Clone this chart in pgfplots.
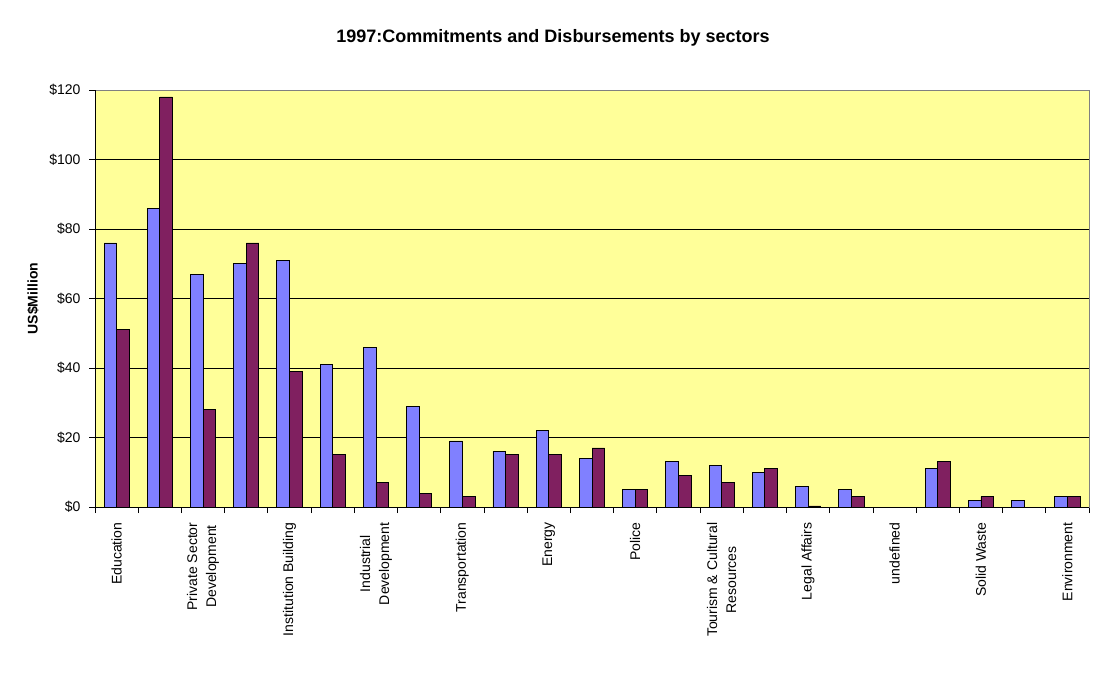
\documentclass[border=0pt]{standalone}
\usepackage{pgfplots}
\pgfplotsset{compat=1.18}
\usepackage{fontspec}
\setmainfont{Liberation Sans}
\definecolor{bgyellow}{HTML}{FFFF99}
\definecolor{serA}{HTML}{8080FF}
\definecolor{serB}{HTML}{802060}
\begin{document}
\begin{tikzpicture}
\path[use as bounding box] (-95pt,-174pt) rectangle (1012pt,507pt);
\begin{axis}[
  at={(0,0)}, anchor=south west,
  scale only axis, width=994pt, height=417pt,
  xmin=-0.5, xmax=22.5, ymin=0, ymax=120,
  ybar=0pt, bar width=12.6pt,
  axis background/.style={fill=bgyellow},
  axis line style={draw=gray, line width=0.8pt},
  ytick={0,20,...,120},
  ymajorgrids, grid style={black, line width=0.8pt},
  yticklabel={\$\pgfmathprintnumber{\tick}},
  /pgf/number format/assume math mode=true,
  tick align=outside, major tick length=6pt,
  tick style={black, line width=0.8pt},
  xtick pos=bottom, ytick pos=left,
  xtick={-0.5,0.5,1.5,2.5,3.5,4.5,5.5,6.5,7.5,8.5,9.5,10.5,11.5,12.5,13.5,14.5,15.5,16.5,17.5,18.5,19.5,20.5,21.5,22.5},
  xticklabels={},
  extra x ticks={0,2,4,6,8,10,12,14,16,18,20,22},
  extra x tick labels={Education,{Private Sector\\Development},Institution Building,{Industrial\\Development},Transportation,Energy,Police,{Tourism \& Cultural\\Resources},Legal Affairs,undefined,Solid Waste,Environment},
  extra x tick style={tick style={draw=none}},
  xticklabel style={yshift=-6pt, rotate=90, anchor=east, align=center, font=\fontsize{14}{19}\selectfont},
  yticklabel style={xshift=-5pt, font=\fontsize{14}{17}\selectfont},
  ylabel={US\$Million},
  ylabel style={font=\bfseries\fontsize{14}{17}\selectfont, at={(axis description cs:-0.0624,0.5)}, anchor=center, rotate=0},
  title={1997:Commitments and Disbursements by sectors},
  title style={font=\bfseries\fontsize{18}{21}\selectfont, at={(axis description cs:0.4608,1.1103)}, anchor=center, yshift=0pt},
  every axis plot/.append style={draw=black, line width=0.8pt},
]
\addplot[fill=serA] coordinates {
(0,76) (1,86) (2,67) (3,70) (4,71) (5,41) (6,46) (7,29) (8,19) (9,16) (10,22) (11,14)
(12,5) (13,13) (14,12) (15,10) (16,6) (17,5) (18,0) (19,11) (20,2) (21,2) (22,3)};
\addplot[fill=serB] coordinates {
(0,51) (1,118) (2,28) (3,76) (4,39) (5,15) (6,7) (7,4) (8,3) (9,15) (10,15) (11,17)
(12,5) (13,9) (14,7) (15,11) (16,0.3) (17,3) (18,0) (19,13) (20,3) (21,0) (22,3)};
\draw[gray, line width=0.8pt] (rel axis cs:0,1) -- (rel axis cs:1,1);
\draw[black, line width=0.8pt] (rel axis cs:0,0) -- (rel axis cs:0,1);
\draw[black, line width=0.8pt] (rel axis cs:0,0) -- (rel axis cs:1,0);
\end{axis}
\end{tikzpicture}
\end{document}
